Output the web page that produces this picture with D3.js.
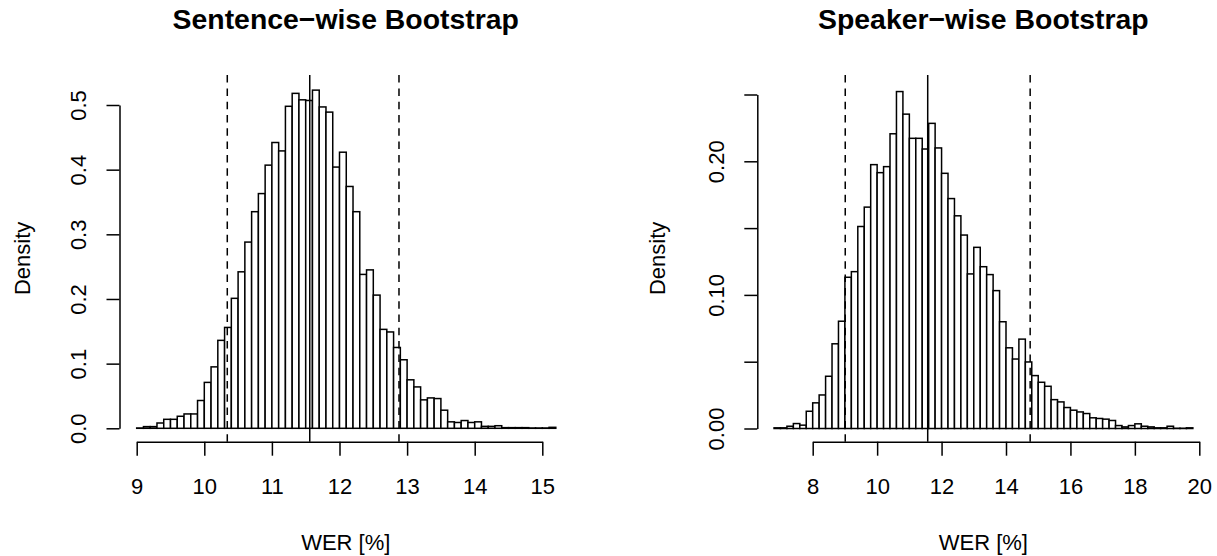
<!DOCTYPE html>
<html>
<head>
<meta charset="utf-8">
<script src="https://cdn.jsdelivr.net/npm/d3@7"></script>
<style>
  body { margin: 0; background: #fff; }
  text { font-family: "Liberation Sans", Arial, sans-serif; fill: #000; }
</style>
</head>
<body>
<div id="chart"></div>
<script>
// bootstrap histograms of WER, densities

// sentence-wise: bins of 0.1 starting at 9.0
const sentStart = 9.0, sentWidth = 0.1
const sentDensity = [
  0.0005, 0.0026, 0.0026, 0.0082, 0.0139, 0.0139, 0.0186, 0.0222, 0.0222, 0.043,
  0.071, 0.095, 0.136, 0.156, 0.201, 0.242, 0.288, 0.335, 0.363, 0.407,
  0.442, 0.429, 0.498, 0.518, 0.508, 0.507, 0.523, 0.497, 0.489, 0.404,
  0.427, 0.374, 0.335, 0.238, 0.245, 0.206, 0.153, 0.149, 0.125, 0.106,
  0.075, 0.064, 0.044, 0.047, 0.046, 0.028, 0.010, 0.009, 0.012, 0.009,
  0.010, 0.003, 0.003, 0.004, 0.001, 0.001, 0.001, 0.001, 0.0005, 0.0005,
  0.0005, 0.0015
]
const sentMean = 11.56
const sentCI = [10.34, 12.88]
const sentXTicks = [9, 10, 11, 12, 13, 14, 15]
const sentYTicks = [0, 0.1, 0.2, 0.3, 0.4, 0.5]
const sentYLabels = ["0.0", "0.1", "0.2", "0.3", "0.4", "0.5"]

// speaker-wise: bins of 0.2 starting at 6.8
const spkStart = 6.8, spkWidth = 0.2
const spkDensity = [
  0.0005, 0.0005, 0.0017, 0.0037, 0.0025, 0.0129, 0.0192, 0.0251, 0.0391, 0.0634,
  0.0803, 0.1132, 0.1174, 0.1512, 0.1657, 0.1975, 0.1915, 0.1960, 0.2206, 0.2522,
  0.2353, 0.2172, 0.2172, 0.2092, 0.2284, 0.2100, 0.1910, 0.1721, 0.1592, 0.1448,
  0.1157, 0.1356, 0.1211, 0.1152, 0.1032, 0.0799, 0.0604, 0.0520, 0.0669, 0.0498,
  0.0396, 0.0346, 0.0316, 0.0216, 0.0199, 0.0157, 0.0137, 0.0124, 0.0112, 0.0080,
  0.0075, 0.0070, 0.0060, 0.0022, 0.0012, 0.0022, 0.0035, 0.0017, 0.0012, 0.0005,
  0.0005, 0.0017, 0.0002, 0.0002, 0.0005
]
const spkMean = 11.57
const spkCI = [9.01, 14.75]
const spkXTicks = [8, 10, 12, 14, 16, 18, 20]
const spkYTicks = [0, 0.05, 0.10, 0.15, 0.20, 0.25]
const spkYLabels = ["0.00", "", "0.10", "", "0.20", ""]

const W = 1217, H = 556
const svg = d3.select("#chart").append("svg")
  .attr("width", W)
  .attr("height", H)

function panel(opt) {
  // scales are anchored on the first and last tick, like base R
  const x = d3.scaleLinear().domain(d3.extent(opt.xTicks)).range(opt.xRange)
  const y = d3.scaleLinear().domain(d3.extent(opt.yTicks)).range(opt.yRange)
  const g = svg.append("g")
  const box = opt.box // plot region [x0, y0, x1, y1]

  const bins = opt.density.map((d, i) => ({
    x0: +(opt.start + i * opt.width).toFixed(2),
    x1: +(opt.start + (i + 1) * opt.width).toFixed(2),
    v: d
  }))

  g.selectAll("rect.bar")
    .data(bins)
    .join("rect")
    .attr("class", "bar")
    .attr("x", d => x(d.x0))
    .attr("width", d => x(d.x1) - x(d.x0))
    .attr("y", d => y(d.v))
    .attr("height", d => y(0) - y(d.v))
    .attr("fill", "#fff")
    .attr("stroke", "#000")
    .attr("stroke-width", 1.5)

  // mean and interval lines, drawn bottom-up across the plot region
  const vlines = [
    { v: opt.mean, dash: null },
    { v: opt.ci[0], dash: "7.5,5.8" },
    { v: opt.ci[1], dash: "7.5,5.8" }
  ]
  g.selectAll("line.v")
    .data(vlines)
    .join("line")
    .attr("class", "v")
    .attr("x1", d => x(d.v))
    .attr("x2", d => x(d.v))
    .attr("y1", box[3])
    .attr("y2", box[1])
    .attr("stroke", "#000")
    .attr("stroke-width", 1.5)
    .attr("stroke-dasharray", d => d.dash)

  // x axis
  const xa = g.append("g")
    .attr("transform", `translate(0,${box[3]})`)
    .call(d3.axisBottom(x).tickValues(opt.xTicks).tickSize(14).tickSizeOuter(0).tickFormat(d3.format("d")))
  xa.selectAll("text")
    .attr("y", 44.5)
    .attr("dy", "0.35em")
    .style("font-size", "22px")
    .style("font-family", "Liberation Sans, Arial, sans-serif")

  // y axis
  const ya = g.append("g")
    .attr("transform", `translate(${box[0]},0)`)
    .call(d3.axisLeft(y).tickValues(opt.yTicks).tickSize(13).tickSizeOuter(0)
      .tickFormat((d, i) => opt.yLabels[i]))
  ya.selectAll("text")
    .attr("x", null)
    .attr("dy", "0.35em")
    .attr("text-anchor", "middle")
    .attr("transform", "translate(-41,0) rotate(-90)")
    .style("font-size", "22px")
    .style("font-family", "Liberation Sans, Arial, sans-serif")

  svg.selectAll(".domain, .tick line").attr("stroke", "#000").attr("stroke-width", 1.5)

  const cx = (box[0] + box[2]) / 2
  const cy = (box[1] + box[3]) / 2

  g.append("text")
    .attr("x", cx)
    .attr("y", 29)
    .attr("text-anchor", "middle")
    .style("font-size", "28.4px")
    .style("font-weight", "bold")
    .text(opt.title)

  g.append("text")
    .attr("x", cx)
    .attr("y", 542)
    .attr("dy", "0.35em")
    .attr("text-anchor", "middle")
    .style("font-size", "22px")
    .text("WER [%]")

  g.append("text")
    .attr("transform", `translate(${opt.ylabX},${cy}) rotate(-90)`)
    .attr("dy", "0.35em")
    .attr("text-anchor", "middle")
    .style("font-size", "22px")
    .text("Density")
}

panel({
  title: "Sentence\u2212wise Bootstrap",
  density: sentDensity, start: sentStart, width: sentWidth,
  mean: sentMean, ci: sentCI,
  xTicks: sentXTicks, yTicks: sentYTicks, yLabels: sentYLabels,
  xRange: [136.7, 542.3], yRange: [428.3, 105],
  box: [119.5, 75, 572, 441.7],
  ylabX: 22
})

panel({
  title: "Speaker\u2212wise Bootstrap",
  density: spkDensity, start: spkStart, width: spkWidth,
  mean: spkMean, ci: spkCI,
  xTicks: spkXTicks, yTicks: spkYTicks, yLabels: spkYLabels,
  xRange: [812.7, 1199.3], yRange: [428.5, 94.5],
  box: [757.3, 75, 1209.4, 441.7],
  ylabX: 657
})
</script>
</body>
</html>
